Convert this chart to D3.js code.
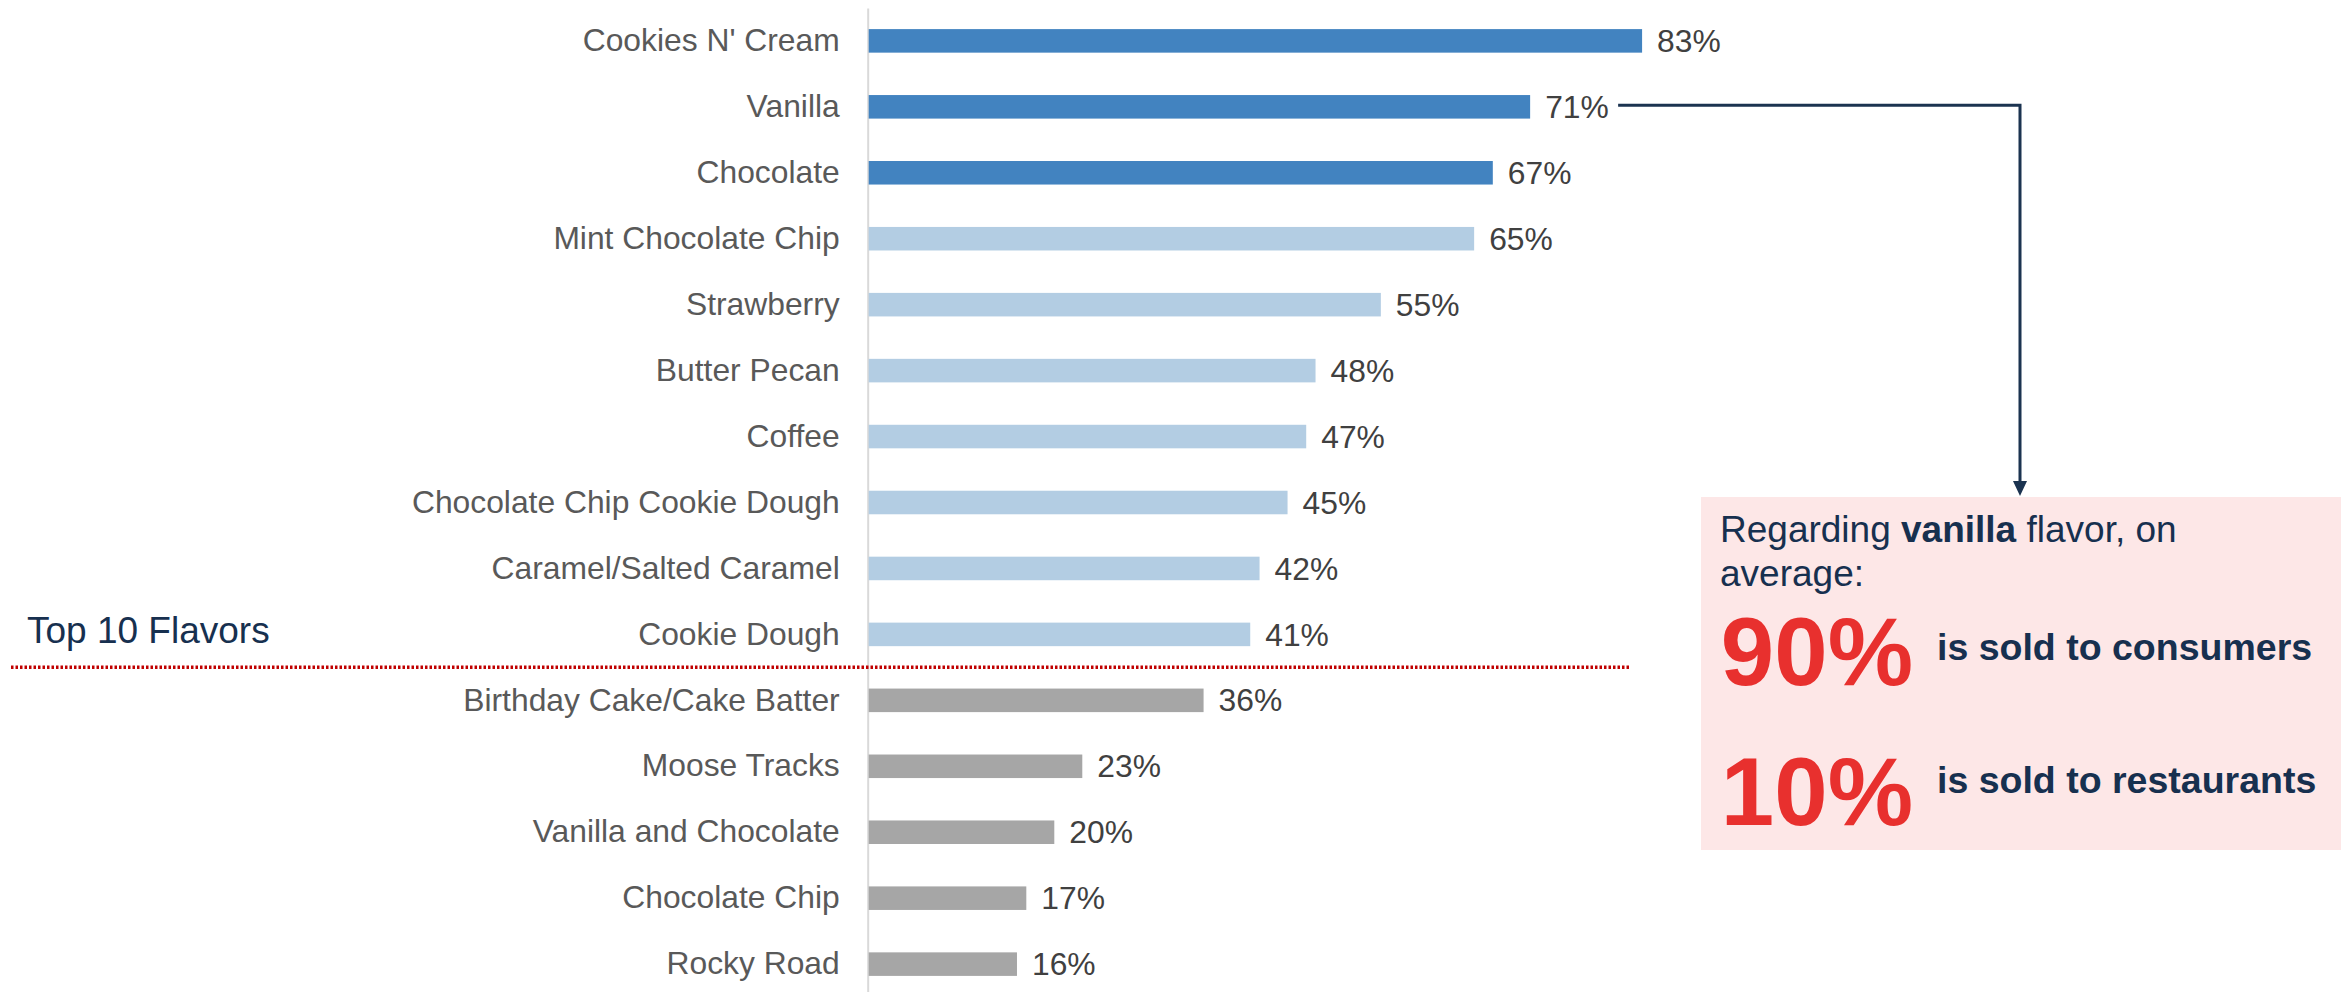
<!DOCTYPE html>
<html>
<head>
<meta charset="utf-8">
<script src="https://cdn.jsdelivr.net/npm/d3@7"></script>
<style>
  html, body { margin: 0; padding: 0; background: #ffffff; }
  svg { display: block; font-family: "Liberation Sans", Arial, sans-serif; }
</style>
</head>
<body>
<svg id="chart" width="2341" height="992"></svg>
<script>
// Share of respondents naming each flavor (%)
const flavors = [
  "Cookies N' Cream", "Vanilla", "Chocolate", "Mint Chocolate Chip", "Strawberry",
  "Butter Pecan", "Coffee", "Chocolate Chip Cookie Dough", "Caramel/Salted Caramel",
  "Cookie Dough", "Birthday Cake/Cake Batter", "Moose Tracks", "Vanilla and Chocolate",
  "Chocolate Chip", "Rocky Road"
];
const shares = [83, 71, 67, 65, 55, 48, 47, 45, 42, 41, 36, 23, 20, 17, 16];
// Colour group per flavor: top three, rest of top ten, others
const groups = ["top3", "top3", "top3", "top10", "top10", "top10", "top10", "top10", "top10", "top10",
  "other", "other", "other", "other", "other"];
const groupColors = { top3: "#4283c0", top10: "#b3cde3", other: "#a6a6a6" };

// Vanilla sales split callout
const calloutStats = [
  { value: "90%", text: "is sold to consumers" },
  { value: "10%", text: "is sold to restaurants" }
];

const data = flavors.map((f, i) => ({ name: f, value: shares[i], group: groups[i] }));

const svg = d3.select("#chart");

const x = d3.scaleLinear().domain([0, 100]).range([867.7, 867.7 + 933]);
const y = d3.scaleBand()
  .domain(flavors)
  .range([8, 997])
  .paddingInner(0.643)
  .paddingOuter(0.32);

// Category axis with its baseline
const yAxis = svg.append("g")
  .attr("transform", `translate(${x(0)},0)`)
  .call(d3.axisLeft(y).tickSize(0).tickPadding(28));
yAxis.select(".domain").attr("stroke", "#d9d9d9").attr("stroke-width", 2);
yAxis.selectAll(".tick text")
  .attr("fill", "#595959")
  .style("font-size", "31.8px")
  .style("font-family", "'Liberation Sans', Arial, sans-serif");

// Bars
svg.append("g").selectAll("rect")
  .data(data)
  .join("rect")
  .attr("x", x(0) + 1)
  .attr("y", d => y(d.name))
  .attr("width", d => x(d.value) - x(0) - 1)
  .attr("height", y.bandwidth())
  .attr("fill", d => groupColors[d.group]);

// Value labels
svg.append("g").selectAll("text")
  .data(data)
  .join("text")
  .attr("x", d => x(d.value) + 15)
  .attr("y", d => y(d.name) + y.bandwidth() / 2)
  .attr("dy", "0.35em")
  .attr("fill", "#404040")
  .style("font-size", "31.8px")
  .text(d => d.value + "%");

// Top-ten separator
const sepY = (y(flavors[9]) + y.bandwidth() + y(flavors[10])) / 2;
svg.append("line")
  .attr("x1", 11).attr("x2", 1630)
  .attr("y1", sepY).attr("y2", sepY)
  .attr("stroke", "#c00000")
  .attr("stroke-width", 3.5)
  .attr("stroke-dasharray", "2.5 2");

svg.append("text")
  .attr("x", 27).attr("y", 643)
  .attr("fill", "#17304f")
  .style("font-size", "37px")
  .text("Top 10 Flavors");

// Callout box
const box = { x: 1701, y: 497, w: 2341 - 1701, h: 850 - 497 };
svg.append("rect")
  .attr("x", box.x).attr("y", box.y)
  .attr("width", box.w).attr("height", box.h)
  .attr("fill", "#fde7e7");

// Connector from the vanilla value to the box
const vanilla = data[1];
const startX = x(vanilla.value) + 88;
const lineY = y(vanilla.name) + y.bandwidth() / 2 - 1.5;
const elbowX = 2020;
svg.append("path")
  .attr("d", `M${startX},${lineY} H${elbowX} V${box.y - 14}`)
  .attr("fill", "none")
  .attr("stroke", "#1b3350")
  .attr("stroke-width", 3);
svg.append("path")
  .attr("d", `M${elbowX - 7},${box.y - 16} L${elbowX + 7},${box.y - 16} L${elbowX},${box.y - 1} Z`)
  .attr("fill", "#1b3350");

const intro = svg.append("text")
  .attr("x", 1720).attr("y", 542)
  .attr("fill", "#17304f")
  .style("font-size", "37px");
intro.append("tspan").text("Regarding ");
intro.append("tspan").style("font-weight", "bold").text("vanilla");
intro.append("tspan").text(" flavor, on");
svg.append("text")
  .attr("x", 1720).attr("y", 586)
  .attr("fill", "#17304f")
  .style("font-size", "37px")
  .text("average:");

const statRows = [
  { big: 685, small: 660 },
  { big: 825, small: 793 }
];
calloutStats.forEach((s, i) => {
  svg.append("text")
    .attr("x", 1913).attr("y", statRows[i].big)
    .attr("text-anchor", "end")
    .attr("fill", "#e8302e")
    .style("font-size", "96px")
    .style("font-weight", "bold")
    .text(s.value);
  svg.append("text")
    .attr("x", 1937).attr("y", statRows[i].small)
    .attr("fill", "#17304f")
    .style("font-size", "37.5px")
    .style("font-weight", "bold")
    .text(s.text);
});
</script>
</body>
</html>
